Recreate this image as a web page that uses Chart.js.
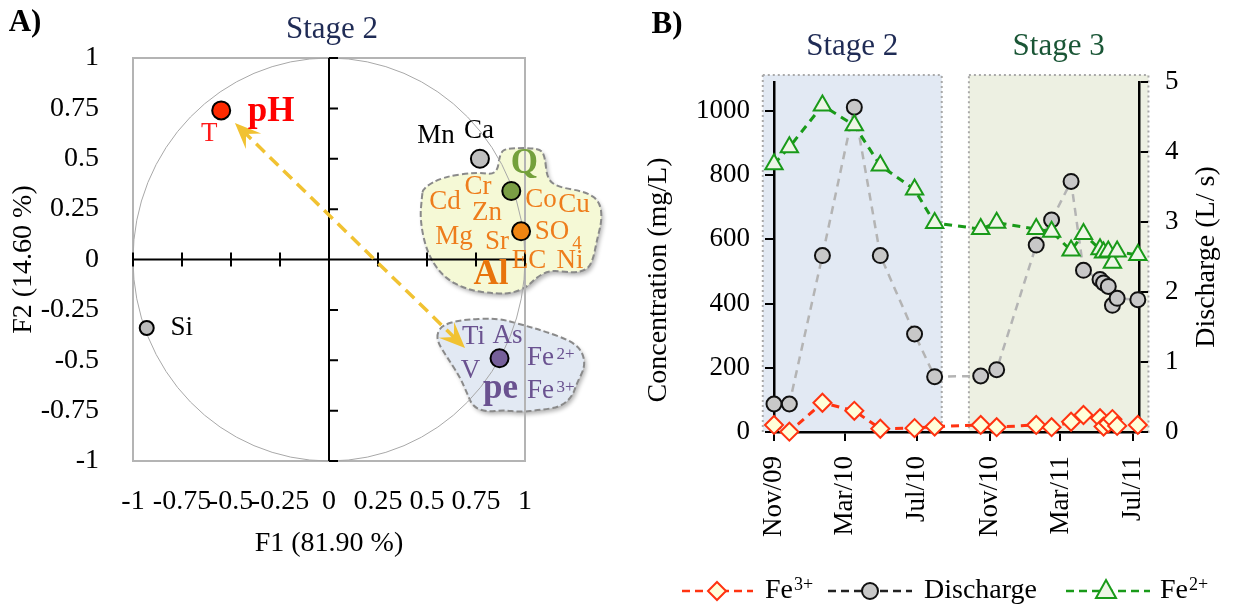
<!DOCTYPE html>
<html>
<head>
<meta charset="utf-8">
<script src="https://cdn.jsdelivr.net/npm/chart.js@4.4.1/dist/chart.umd.min.js"></script>
<style>
  html, body { margin: 0; padding: 0; background: #fff; }
  #wrap { position: relative; width: 1237px; height: 608px; }
  canvas { position: absolute; top: 0; }
</style>
</head>
<body>
<div id="wrap">
  <canvas id="pca" width="620" height="608" style="left:0"></canvas>
  <canvas id="series" width="617" height="608" style="left:620px"></canvas>
</div>
<script>
// ---- panel A: PCA loadings (F1 / F2) ----
const loadingGroups = ['T, pH', 'Mn, Ca', 'Q', 'Cd Cr Zn Co Cu Mg Sr SO4 EC Ni Al', 'Ti As V pe Fe2+ Fe3+', 'Si'];
const loadingF1 = [-0.55, 0.77, 0.93, 0.98, 0.87, -0.93];
const loadingF2 = [0.74, 0.50, 0.34, 0.14, -0.49, -0.34];
const pcaTicks = [-1, -0.75, -0.5, -0.25, 0, 0.25, 0.5, 0.75, 1];

// ---- panel B: time series ----
const sampleDates = ['2009-11-01', '2009-11-27', '2010-01-22', '2010-03-17', '2010-04-30', '2010-06-27', '2010-07-31',
  '2010-10-17', '2010-11-13', '2011-01-19', '2011-02-14', '2011-03-19', '2011-04-09', '2011-05-07', '2011-05-13',
  '2011-05-21', '2011-05-28', '2011-06-05', '2011-07-10'];
const fe3 = [22, 1, 91, 66, 10, 12, 17, 22, 15, 22, 15, 32, 53, 43, 17, 27, 40, 19, 22];
const discharge = [0.40, 0.40, 2.52, 4.64, 2.52, 1.40, 0.79, 0.80, 0.89, 2.67, 3.03, 3.58, 2.31, 2.18, 2.13, 2.08, 1.81, 1.91, 1.89];
const fe2 = [834, 887, 1017, 955, 830, 755, 651, 632, 652, 632, 624, 565, 617, 569, 559, 562, 527, 562, 551];
const xTickDates = ['2009-11-01', '2010-03-01', '2010-07-01', '2010-11-01', '2011-03-01', '2011-07-01'];
const xTickLabels = ['Nov/09', 'Mar/10', 'Jul/10', 'Nov/10', 'Mar/11', 'Jul/11'];
const concTicks = [0, 200, 400, 600, 800, 1000];
const dischargeTicks = [0, 1, 2, 3, 4, 5];
const stageNames = ['Stage 2', 'Stage 3'];
const stageStart = ['2009-10-13', '2010-09-27'];
const stageEnd = ['2010-08-12', '2011-07-28'];

const FONT = '"Liberation Serif", "Times New Roman", serif';
Chart.defaults.font.family = FONT;
Chart.defaults.color = '#000';

const t = s => Date.parse(s + 'T00:00:00Z');

function txt(ctx, s, x, y, o) {
  ctx.save();
  ctx.font = (o.bold ? 'bold ' : '') + o.size + 'px ' + FONT;
  ctx.fillStyle = o.color || '#000';
  ctx.textAlign = o.align || 'center';
  ctx.textBaseline = 'middle';
  ctx.translate(x, y);
  if (o.rot) ctx.rotate(o.rot);
  ctx.fillText(s, 0, 0);
  ctx.restore();
}

function smoothPath(ctx, pts) {
  const n = pts.length;
  const mid = (a, b) => [(a[0] + b[0]) / 2, (a[1] + b[1]) / 2];
  const m0 = mid(pts[n - 1], pts[0]);
  ctx.moveTo(m0[0], m0[1]);
  for (let i = 0; i < n; i++) {
    const p = pts[i], m = mid(p, pts[(i + 1) % n]);
    ctx.quadraticCurveTo(p[0], p[1], m[0], m[1]);
  }
  ctx.closePath();
}

// blob outlines, in F1/F2 units
const blobs = [
  { fill: '#f5f9d6', outline: [[0.48, 0.355], [0.582, 0.41], [0.755, 0.434], [0.857, 0.419], [0.872, 0.529], [0.908, 0.553],
    [1.077, 0.553], [1.102, 0.509], [1.112, 0.404], [1.163, 0.36], [1.316, 0.335], [1.383, 0.285], [1.393, 0.196],
    [1.367, 0.097], [1.347, -0.002], [1.316, -0.052], [1.245, -0.067], [1.128, -0.052], [1.061, -0.087], [1.01, -0.136],
    [0.939, -0.166], [0.857, -0.171], [0.704, -0.151], [0.582, -0.087], [0.5, 0.032], [0.464, 0.196], [0.474, 0.31]] },
  { fill: '#e2e9f3', outline: [[0.551, -0.365], [0.582, -0.325], [0.668, -0.3], [0.857, -0.29], [0.99, -0.325], [1.112, -0.36],
    [1.245, -0.409], [1.296, -0.464], [1.306, -0.533], [1.265, -0.613], [1.24, -0.682], [1.179, -0.732], [1.077, -0.747],
    [0.974, -0.757], [0.888, -0.747], [0.806, -0.757], [0.735, -0.732], [0.704, -0.663], [0.668, -0.583], [0.602, -0.484],
    [0.556, -0.414]] }
];

// label layout around each loading point (pixel offsets)
const RED = '#ff0000', ORANGE = '#ee7d1c', PURPLE = '#6a5290';
const groupLabels = [
  [{ s: 'pH', dx: 50, dy: 2, size: 35, bold: true, color: RED }, { s: 'T', dx: -12, dy: 24, size: 27, color: '#ff1a1a' }],
  [{ s: 'Mn', dx: -44, dy: -23, size: 27 }, { s: 'Ca', dx: -1, dy: -28, size: 27 }],
  [{ s: 'Q', dx: 13, dy: -27, size: 35, bold: true, color: '#74a03c' }],
  [{ s: 'Cd', dx: -76, dy: -29 }, { s: 'Cr', dx: -43, dy: -44 }, { s: 'Zn', dx: -34, dy: -18 }, { s: 'Co', dx: 20, dy: -31 },
   { s: 'Cu', dx: 53, dy: -26 }, { s: 'Mg', dx: -67, dy: 6 }, { s: 'Sr', dx: -24, dy: 11 }, { s: 'SO', dx: 31, dy: 1 },
   { s: '4', dx: 56, dy: 13, size: 19 }, { s: 'EC', dx: 8, dy: 30 }, { s: 'Ni', dx: 49, dy: 30 },
   { s: 'Al', dx: -30, dy: 44, size: 35, bold: true, color: '#e8740c' }].map(l => Object.assign({ size: 27, color: ORANGE }, l)),
  [{ s: 'Ti', dx: -26, dy: -21 }, { s: 'As', dx: 8, dy: -22 }, { s: 'Fe', dx: 41, dy: 0 }, { s: '2+', dx: 66, dy: -4, size: 17 },
   { s: 'V', dx: -29, dy: 13 }, { s: 'pe', dx: 1, dy: 31, size: 35, bold: true }, { s: 'Fe', dx: 41, dy: 33 },
   { s: '3+', dx: 66, dy: 29, size: 17 }].map(l => Object.assign({ size: 27, color: PURPLE }, l)),
  [{ s: 'Si', dx: 35, dy: 0, size: 27 }]
];

const arrowEnds = [[0.694, -0.439], [-0.48, 0.677]];

function arrowHead(ctx, tip, from, len, half) {
  const dx = tip[0] - from[0], dy = tip[1] - from[1], d = Math.hypot(dx, dy);
  const ux = dx / d, uy = dy / d, px = -uy, py = ux;
  ctx.beginPath();
  ctx.moveTo(tip[0], tip[1]);
  ctx.lineTo(tip[0] - ux * len + px * half, tip[1] - uy * len + py * half);
  ctx.lineTo(tip[0] - ux * len * 0.6, tip[1] - uy * len * 0.6);
  ctx.lineTo(tip[0] - ux * len - px * half, tip[1] - uy * len - py * half);
  ctx.closePath();
  ctx.fill();
}

const pcaDecor = {
  id: 'pcaDecor',
  beforeDraw(chart) {
    const { ctx, scales: { x, y } } = chart;
    blobs.forEach(b => {
      ctx.save();
      ctx.beginPath();
      smoothPath(ctx, b.outline.map(p => [x.getPixelForValue(p[0]), y.getPixelForValue(p[1])]));
      ctx.shadowColor = 'rgba(0,0,0,0.3)';
      ctx.shadowBlur = 4; ctx.shadowOffsetX = 2; ctx.shadowOffsetY = 3;
      ctx.fillStyle = b.fill;
      ctx.fill();
      ctx.shadowColor = 'transparent';
      ctx.setLineDash([6, 3]);
      ctx.lineWidth = 2;
      ctx.strokeStyle = '#8a8a8a';
      ctx.stroke();
      ctx.restore();
    });
  },
  beforeDatasetsDraw(chart) {
    const { ctx, chartArea: a, scales: { x, y } } = chart;
    const x0 = x.getPixelForValue(0), y0 = y.getPixelForValue(0);
    ctx.save();
    // frame
    ctx.strokeStyle = '#b4b4b4';
    ctx.lineWidth = 2;
    ctx.strokeRect(a.left, a.top, a.right - a.left, a.bottom - a.top);
    // correlation circle
    ctx.beginPath();
    ctx.ellipse(x0, y0, x.getPixelForValue(1) - x0, y0 - y.getPixelForValue(1), 0, 0, Math.PI * 2);
    ctx.strokeStyle = '#a8a8a8';
    ctx.lineWidth = 1;
    ctx.stroke();
    // axes through the origin
    ctx.strokeStyle = '#000';
    ctx.lineWidth = 2;
    ctx.beginPath();
    ctx.moveTo(x.getPixelForValue(-1), y0); ctx.lineTo(x.getPixelForValue(1), y0);
    ctx.moveTo(x0, y.getPixelForValue(1)); ctx.lineTo(x0, y.getPixelForValue(-1));
    pcaTicks.forEach(v => {
      if (v === 0) return;
      const px = x.getPixelForValue(v), py = y.getPixelForValue(v);
      ctx.moveTo(px, y0 - 7); ctx.lineTo(px, y0 + 7);
      ctx.moveTo(x0, py); ctx.lineTo(x0 + 9, py);
    });
    ctx.stroke();
    // yellow double arrow
    const p1 = [x.getPixelForValue(arrowEnds[0][0]), y.getPixelForValue(arrowEnds[0][1])];
    const p2 = [x.getPixelForValue(arrowEnds[1][0]), y.getPixelForValue(arrowEnds[1][1])];
    const d = Math.hypot(p2[0] - p1[0], p2[1] - p1[1]);
    const ux = (p2[0] - p1[0]) / d, uy = (p2[1] - p1[1]) / d;
    ctx.strokeStyle = '#f1c232';
    ctx.fillStyle = '#f1c232';
    ctx.lineWidth = 3.5;
    ctx.setLineDash([12, 7]);
    ctx.beginPath();
    ctx.moveTo(p1[0] + ux * 14, p1[1] + uy * 14);
    ctx.lineTo(p2[0] - ux * 14, p2[1] - uy * 14);
    ctx.stroke();
    ctx.setLineDash([]);
    arrowHead(ctx, p2, p1, 26, 11);
    arrowHead(ctx, p1, p2, 26, 11);
    ctx.restore();
  },
  afterDatasetsDraw(chart) {
    const { ctx, scales: { x, y } } = chart;
    groupLabels.forEach((labels, g) => {
      const px = x.getPixelForValue(loadingF1[g]), py = y.getPixelForValue(loadingF2[g]);
      labels.forEach(l => txt(ctx, l.s, px + l.dx, py + l.dy, l));
    });
    txt(ctx, 'A)', 25, 23, { size: 31, bold: true });
    txt(ctx, 'Stage 2', x.getPixelForValue(0) + 3, 30, { size: 31, color: '#1f2b55' });
    txt(ctx, 'F1 (81.90 %)', x.getPixelForValue(0), 544, { size: 28 });
    txt(ctx, 'F2 (14.60 %)', 24, y.getPixelForValue(0), { size: 28, rot: -Math.PI / 2 });
  }
};

new Chart(document.getElementById('pca'), {
  type: 'scatter',
  data: {
    labels: loadingGroups,
    datasets: [{
      data: loadingF1.map((v, i) => ({ x: v, y: loadingF2[i] })),
      pointBackgroundColor: ['#ff2a00', '#c0c0c0', '#7a9e45', '#f08512', '#76609a', '#bcbcbc'],
      pointBorderColor: '#000',
      pointBorderWidth: 2,
      pointRadius: [9, 9, 9, 9, 9, 7],
      pointHoverRadius: [9, 9, 9, 9, 9, 7],
      clip: false
    }]
  },
  options: {
    responsive: false,
    animation: false,
    events: [],
    layout: { padding: { top: 58, right: 95, left: 0, bottom: 0 } },
    plugins: { legend: { display: false }, tooltip: { enabled: false } },
    scales: {
      x: {
        min: -1, max: 1,
        afterBuildTicks: s => { s.ticks = pcaTicks.map(v => ({ value: v })); },
        afterFit: s => { s.height = 147; },
        ticks: { autoSkip: false, maxRotation: 0, minRotation: 0, padding: 16, font: { size: 28 }, callback: v => String(v) },
        grid: { display: false },
        border: { display: false }
      },
      y: {
        min: -1, max: 1,
        afterBuildTicks: s => { s.ticks = pcaTicks.map(v => ({ value: v })); },
        afterFit: s => { s.width = 133; },
        ticks: { autoSkip: false, padding: 26, font: { size: 28 }, callback: v => String(v) },
        grid: { display: false },
        border: { display: false }
      }
    }
  },
  plugins: [pcaDecor]
});

// ---- panel B ----
const seriesStyle = {
  fe3: { color: '#ff3311', fill: '#ffffd9', point: 'diamond' },
  discharge: { color: '#b4b4b4', fill: '#c8c8c8', point: 'circle' },
  fe2: { color: '#199a19', fill: '#eef6e6', point: 'triangle' }
};

function marker(ctx, kind, x, y, fill, stroke) {
  ctx.save();
  ctx.beginPath();
  if (kind === 'diamond') {
    ctx.moveTo(x, y - 9); ctx.lineTo(x + 9, y); ctx.lineTo(x, y + 9); ctx.lineTo(x - 9, y); ctx.closePath();
  } else if (kind === 'circle') {
    ctx.arc(x, y, 8, 0, Math.PI * 2);
  } else {
    ctx.moveTo(x, y - 11); ctx.lineTo(x + 10, y + 7); ctx.lineTo(x - 10, y + 7); ctx.closePath();
  }
  ctx.fillStyle = fill; ctx.fill();
  ctx.lineWidth = 2; ctx.strokeStyle = stroke; ctx.stroke();
  ctx.restore();
}

const legendItems = [
  { key: 'fe3', line: '#ff3311', stroke: '#ff3311', x1: 62, x2: 133, mx: 97, tx: 145, s: 'Fe', sup: '3+' },
  { key: 'discharge', line: '#222', stroke: '#111', x1: 208, x2: 292, mx: 250, tx: 304, s: 'Discharge' },
  { key: 'fe2', line: '#199a19', stroke: '#199a19', x1: 446, x2: 530, mx: 486, tx: 540, s: 'Fe', sup: '2+' }
];

const seriesDecor = {
  id: 'seriesDecor',
  beforeDraw(chart) {
    const { ctx, scales: { x, y } } = chart;
    stageNames.forEach((name, i) => {
      const x0 = x.getPixelForValue(t(stageStart[i])), x1 = x.getPixelForValue(t(stageEnd[i]));
      const y0 = y.getPixelForValue(1112), y1 = y.getPixelForValue(0);
      ctx.save();
      ctx.fillStyle = i === 0 ? '#e2e9f3' : '#edf0e2';
      ctx.fillRect(x0, y0, x1 - x0, y1 - y0);
      ctx.setLineDash([2, 3]);
      ctx.lineWidth = 2;
      ctx.strokeStyle = '#a9a9a9';
      ctx.strokeRect(x0, y0, x1 - x0, y1 - y0);
      ctx.restore();
      txt(ctx, name, (x0 + x1) / 2, 47, { size: 31, color: i === 0 ? '#1f2b55' : '#1a5636' });
    });
  },
  afterDraw(chart) {
    const { ctx } = chart;
    txt(ctx, 'B)', 47, 25, { size: 31, bold: true });
    txt(ctx, 'Concentration (mg/L)', 39, 280, { size: 28, rot: -Math.PI / 2 });
    txt(ctx, 'Discharge (L/ s)', 587, 257, { size: 28, rot: -Math.PI / 2 });
    const ly = 591;
    legendItems.forEach(it => {
      const st = seriesStyle[it.key];
      ctx.save();
      ctx.strokeStyle = it.line;
      ctx.lineWidth = 2.5;
      ctx.setLineDash([8, 5]);
      ctx.beginPath();
      ctx.moveTo(it.x1, ly); ctx.lineTo(it.x2, ly);
      ctx.stroke();
      ctx.restore();
      marker(ctx, st.point, it.mx, ly, st.fill, it.stroke);
      txt(ctx, it.s, it.tx, ly, { size: 28, align: 'left' });
      if (it.sup) {
        ctx.save();
        ctx.font = '28px ' + FONT;
        const w = ctx.measureText(it.s).width;
        ctx.restore();
        txt(ctx, it.sup, it.tx + w + 1, ly - 6, { size: 18, align: 'left' });
      }
    });
  }
};

const xs = sampleDates.map(t);
const axisTick = { display: true, drawOnChartArea: false, drawTicks: true, tickLength: 9, color: '#000', lineWidth: 2 };

new Chart(document.getElementById('series'), {
  type: 'line',
  data: {
    datasets: [
      {
        label: 'Fe2+', yAxisID: 'y', order: 0,
        data: xs.map((v, i) => ({ x: v, y: fe2[i] })),
        borderColor: seriesStyle.fe2.color, borderWidth: 3, borderDash: [8, 6],
        pointStyle: 'triangle', pointRadius: 10, pointBorderWidth: 2,
        pointBackgroundColor: seriesStyle.fe2.fill, pointBorderColor: seriesStyle.fe2.color,
        tension: 0, clip: false
      },
      {
        label: 'Fe3+', yAxisID: 'y', order: 1,
        data: xs.map((v, i) => ({ x: v, y: fe3[i] })),
        borderColor: seriesStyle.fe3.color, borderWidth: 3, borderDash: [8, 6],
        pointStyle: 'rectRot', pointRadius: 9, pointBorderWidth: 2,
        pointBackgroundColor: seriesStyle.fe3.fill, pointBorderColor: seriesStyle.fe3.color,
        tension: 0, clip: false
      },
      {
        label: 'Discharge', yAxisID: 'y1', order: 2,
        data: xs.map((v, i) => ({ x: v, y: discharge[i] })),
        borderColor: seriesStyle.discharge.color, borderWidth: 2.5, borderDash: [8, 6],
        pointStyle: 'circle', pointRadius: 7.5, pointBorderWidth: 2,
        pointBackgroundColor: seriesStyle.discharge.fill, pointBorderColor: '#111',
        tension: 0, clip: false
      }
    ]
  },
  options: {
    responsive: false,
    animation: false,
    events: [],
    layout: { padding: { top: 82, right: 0, left: 0, bottom: 0 } },
    plugins: { legend: { display: false }, tooltip: { enabled: false } },
    scales: {
      x: {
        type: 'linear',
        min: t('2009-11-01'), max: t('2011-07-12'),
        afterBuildTicks: s => { s.ticks = xTickDates.map(d => ({ value: t(d) })); },
        afterFit: s => { s.height = 176; },
        ticks: { autoSkip: false, maxRotation: 90, minRotation: 90, padding: 15, font: { size: 27 },
          callback: (v, i) => xTickLabels[i] },
        grid: axisTick,
        border: { display: true, color: '#000', width: 2.5 }
      },
      y: {
        position: 'left',
        min: 0, max: 1090,
        afterBuildTicks: s => { s.ticks = concTicks.map(v => ({ value: v })); },
        afterFit: s => { s.width = 154; },
        ticks: { padding: 15, font: { size: 27 }, callback: v => String(v) },
        grid: axisTick,
        border: { display: true, color: '#000', width: 2.5 }
      },
      y1: {
        position: 'right',
        min: 0, max: 5,
        afterBuildTicks: s => { s.ticks = dischargeTicks.map(v => ({ value: v })); },
        afterFit: s => { s.width = 98; },
        ticks: { padding: 17, font: { size: 27 }, callback: v => String(v) },
        grid: axisTick,
        border: { display: true, color: '#000', width: 2.5 }
      }
    }
  },
  plugins: [seriesDecor]
});
</script>
</body>
</html>
